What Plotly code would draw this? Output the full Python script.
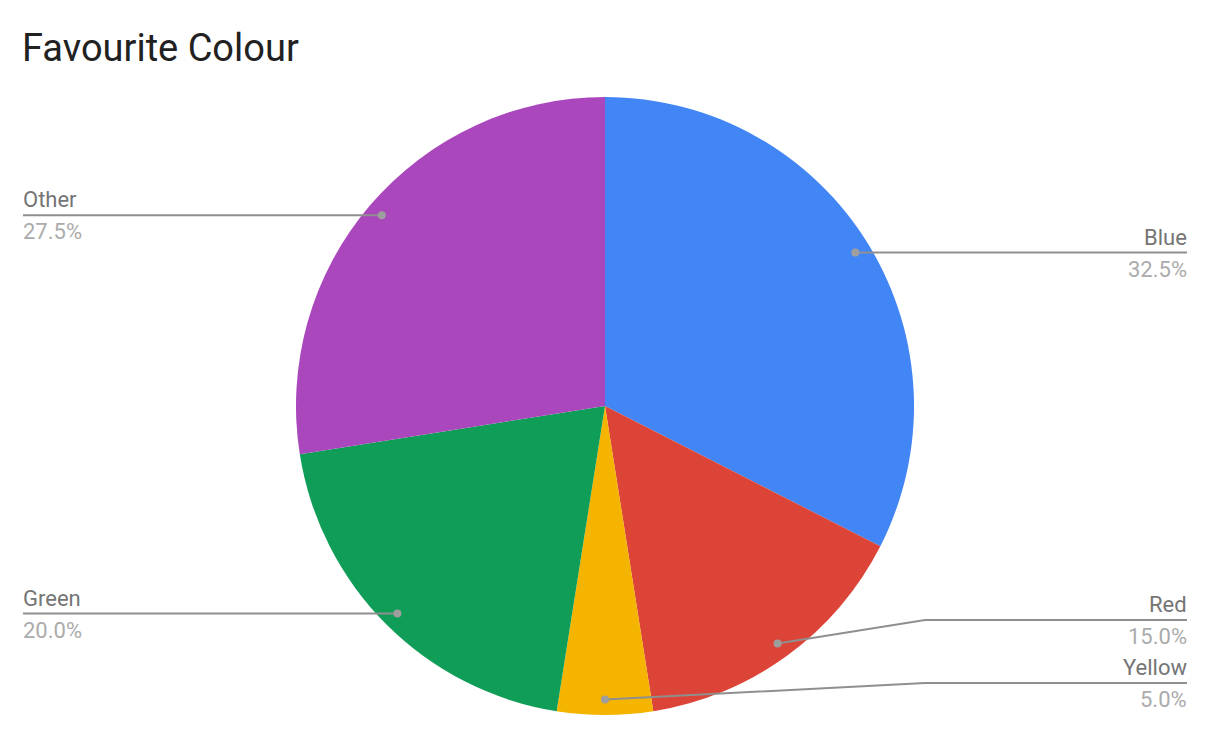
import math

import plotly.graph_objects as go

# data
labels = ["Blue", "Red", "Yellow", "Green", "Other"]
values = [32.5, 15.0, 5.0, 20.0, 27.5]
colors = ["#4285F4", "#DB4437", "#F4B400", "#0F9D58", "#AB47BC"]

W, H = 1223, 741
OFF = 8  # page body margin in the browser
CX, CY, R = 605, 406, 309  # pie centre / radius in px
DOT_R = 0.95 * R
LEFT_X, RIGHT_X, ELBOW_X = 23, 1187, 925
# labels pushed up so they do not collide
label_y_override = {"Red": 620, "Yellow": 683}


def px(x):
    return (x - OFF) / W


def py(y):
    return 1 - (y - OFF) / H


fig = go.Figure(
    go.Pie(
        labels=labels,
        values=values,
        marker=dict(colors=colors, line=dict(width=0)),
        sort=False,
        direction="clockwise",
        rotation=0,
        textinfo="none",
        hoverinfo="label+percent",
        showlegend=False,
        domain=dict(
            x=[px(CX - R), px(CX + R)],
            y=[py(CY + R), py(CY - R)],
        ),
    )
)

shapes = []
annotations = []
total = sum(values)
cum = 0
for lab, val in zip(labels, values):
    mid = (cum + val / 2) / total * 2 * math.pi
    cum += val
    dx = CX + DOT_R * math.sin(mid)
    dy = CY - DOT_R * math.cos(mid)
    right = dx >= CX - 1
    ly = label_y_override.get(lab, dy)
    end_x = RIGHT_X if right else LEFT_X
    if ly != dy:
        path = f"M {px(dx)} {py(dy)} L {px(ELBOW_X)} {py(ly)} L {px(end_x)} {py(ly)}"
    else:
        path = f"M {px(dx)} {py(dy)} L {px(end_x)} {py(ly)}"
    shapes.append(
        dict(
            type="path",
            xref="paper",
            yref="paper",
            path=path,
            line=dict(color="#8f8f8f", width=2),
            layer="above",
        )
    )
    shapes.append(
        dict(
            type="circle",
            xref="paper",
            yref="paper",
            x0=px(dx - 4),
            x1=px(dx + 4),
            y0=py(dy + 4),
            y1=py(dy - 4),
            fillcolor="#9e9e9e",
            line=dict(width=0),
            layer="above",
        )
    )
    anchor = "right" if right else "left"
    annotations.append(
        dict(
            x=px(end_x),
            y=py(ly - 3),
            xref="paper",
            yref="paper",
            text=lab,
            showarrow=False,
            xanchor=anchor,
            yanchor="bottom",
            borderpad=0,
            borderwidth=0,
            font=dict(family="Roboto", size=22, color="#757575"),
        )
    )
    annotations.append(
        dict(
            x=px(end_x),
            y=py(ly + 4),
            xref="paper",
            yref="paper",
            text=f"{val / total * 100:.1f}%",
            showarrow=False,
            xanchor=anchor,
            yanchor="top",
            borderpad=0,
            borderwidth=0,
            font=dict(family="Roboto", size=22, color="#ababab"),
        )
    )

annotations.append(
    dict(
        x=px(22),
        y=py(48),
        xref="paper",
        yref="paper",
        text="Favourite Colour",
        showarrow=False,
        xanchor="left",
        yanchor="middle",
        borderpad=0,
        borderwidth=0,
        font=dict(family="Roboto", size=38, color="#212121"),
    )
)

fig.update_layout(
    width=W,
    height=H,
    margin=dict(l=0, r=0, t=0, b=0),
    paper_bgcolor="white",
    plot_bgcolor="white",
    shapes=shapes,
    annotations=annotations,
)

fig.write_html("out.html")
